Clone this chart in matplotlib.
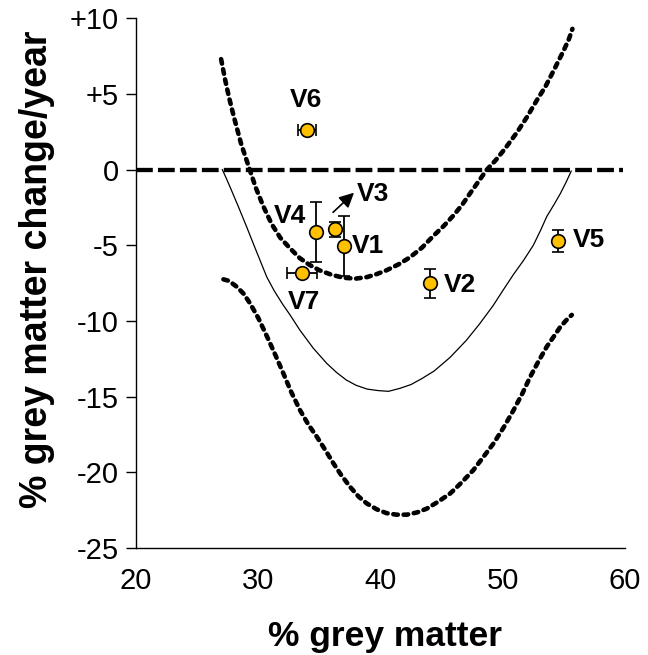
import numpy as np
import matplotlib
matplotlib.use("Agg")
import matplotlib.pyplot as plt

plt.rcParams['font.family'] = ['Liberation Sans', 'DejaVu Sans']

# upper (dotted) boundary curve
upper_x = [26.96, 27.3, 27.6, 28.0, 28.6, 29.3, 29.8, 30.4, 31.1, 31.8, 32.6, 33.4,
           34.2, 35.0, 36.0, 37.0, 38.0, 38.9, 39.7, 40.5, 41.5, 42.4, 43.4, 44.3,
           45.2, 46.0, 46.7, 47.3, 48.0, 48.7, 49.4, 50.2, 51.2, 52.0, 52.8, 53.5,
           54.2, 55.0, 55.4, 55.7]
upper_y = [7.3, 5.9, 4.8, 3.5, 1.7, 0.0, -1.2, -2.4, -3.6, -4.5, -5.2, -5.85,
           -6.3, -6.65, -6.95, -7.15, -7.2, -7.1, -6.9, -6.65, -6.25, -5.8, -5.15, -4.4,
           -3.7, -3.0, -2.3, -1.6, -0.8, 0.0, 0.6, 1.4, 2.5, 3.5, 4.6, 5.5,
           6.6, 7.9, 8.6, 9.3]

# lower (dotted) boundary curve
lower_x = [27.15, 27.6, 28.24, 28.8, 29.33, 30.0, 30.7, 31.4, 32.05, 32.7, 33.42, 34.1,
           34.79, 35.5, 36.15, 36.8, 37.51, 38.2, 38.88, 39.7, 40.5, 41.3, 42.15, 43.0,
           43.79, 44.7, 45.7, 46.6, 47.6, 48.4, 49.24, 50.1, 50.88, 51.6, 52.24, 52.9,
           53.6, 54.2, 54.7, 55.2, 55.65]
lower_y = [-7.25, -7.35, -7.74, -8.2, -8.84, -9.8, -11.0, -12.25, -13.46, -14.7, -15.9, -16.85,
           -17.65, -18.55, -19.41, -20.2, -20.96, -21.6, -22.06, -22.45, -22.7, -22.8, -22.8, -22.65,
           -22.4, -21.95, -21.4, -20.7, -19.85, -19.0, -18.1, -17.0, -15.9, -14.8, -13.7, -12.7,
           -11.7, -11.0, -10.4, -9.95, -9.6]

# middle (solid) curve
mid_x = [27.06, 27.4, 27.8, 28.4, 29.06, 29.6, 30.15, 30.7, 31.3, 32.0, 32.6, 33.4,
         34.5, 35.6, 36.4, 37.2, 38.0, 38.9, 39.8, 40.65, 41.6, 42.5, 43.4, 44.4,
         45.7, 47.0, 48.1, 49.2, 50.0, 50.9, 51.7, 52.5, 53.1, 53.6, 54.2, 54.7,
         55.2, 55.6]
mid_y = [0.0, -0.6, -1.35, -2.5, -3.8, -4.9, -6.0, -7.1, -8.0, -8.9, -9.6, -10.6,
         -11.8, -12.8, -13.4, -13.9, -14.25, -14.5, -14.6, -14.65, -14.45, -14.2, -13.8, -13.3,
         -12.4, -11.3, -10.2, -9.0, -8.0, -6.9, -6.0, -5.0, -4.0, -3.1, -2.3, -1.6,
         -0.8, -0.1]

zero_x = [20, 59.8]
zero_y = [0, 0]

# subjects
names = ['V1', 'V2', 'V3', 'V4', 'V5', 'V6', 'V7']
gm = [37.05, 44.06, 36.28, 34.7, 54.48, 33.97, 33.6]
change = [-5.03, -7.52, -3.95, -4.1, -4.72, 2.62, -6.86]
yerr = [1.98, 0.96, 0.52, 1.98, 0.72, 0.0, 0.0]
xerr = [0.0, 0.0, 0.0, 0.0, 0.0, 0.74, 1.23]

label_x = [38.95, 46.5, 39.4, 32.6, 57.07, 33.9, 33.7]
label_y = [-5.07, -7.63, -1.62, -3.07, -4.65, 4.6, -8.73]

fig = plt.figure(figsize=(6.48, 6.55), dpi=100)
ax = fig.add_axes([0.2099, 0.1634, 0.7546, 0.8087])

dots = dict(color='black', lw=3.3, dashes=(1.0, 1.25), dash_capstyle='round')
ax.plot(upper_x, upper_y, **dots)
ax.plot(lower_x, lower_y, **dots)
ax.plot(mid_x, mid_y, color='black', lw=0.9)
ax.plot(zero_x, zero_y, color='black', lw=3.1, dashes=(3.9, 1.2))

ax.errorbar(gm, change, yerr=yerr, xerr=xerr, fmt='o', ms=9.8,
            mfc='#FFC000', mec='black', mew=1.2, ecolor='black',
            elinewidth=1.3, capsize=4, capthick=1.3, zorder=5)

for n, lx, ly in zip(names, label_x, label_y):
    ax.text(lx, ly, n, ha='center', va='center', fontsize=19, fontweight='bold')

# arrow pointing to V3
ax.annotate('', xy=(38.0, -1.4), xytext=(35.95, -2.95),
            arrowprops=dict(arrowstyle='-|>', color='black', lw=1.2, mutation_scale=22))

ax.set_xlim(20, 60)
ax.set_ylim(-25, 10)
ax.spines['top'].set_visible(False)
ax.spines['right'].set_visible(False)
for s in ['left', 'bottom']:
    ax.spines[s].set_linewidth(1.0)

ax.set_yticks([10, 5, 0, -5, -10, -15, -20, -25])
ax.set_yticklabels(['+10', '+5', '0', '-5', '-10', '-15', '-20', '-25'])
ax.set_xticks([20, 30, 40, 50, 60])
ax.set_xticks([20, 40, 60], minor=True)
ax.tick_params(axis='y', direction='out', length=7.5, width=1.0, labelsize=21, pad=5)
ax.tick_params(axis='x', which='major', length=0, labelsize=21, pad=14)
ax.tick_params(axis='x', which='minor', direction='out', length=7.5, width=1.0)

ax.set_xlabel('% grey matter', fontsize=25.5, fontweight='bold', va='baseline')
ax.xaxis.set_label_coords(0.509, -0.185)
ax.set_ylabel('% grey matter change/year', fontsize=27, fontweight='bold')
ax.yaxis.set_label_coords(-0.1667, 0.527)

fig.savefig('out.png', dpi=100)
